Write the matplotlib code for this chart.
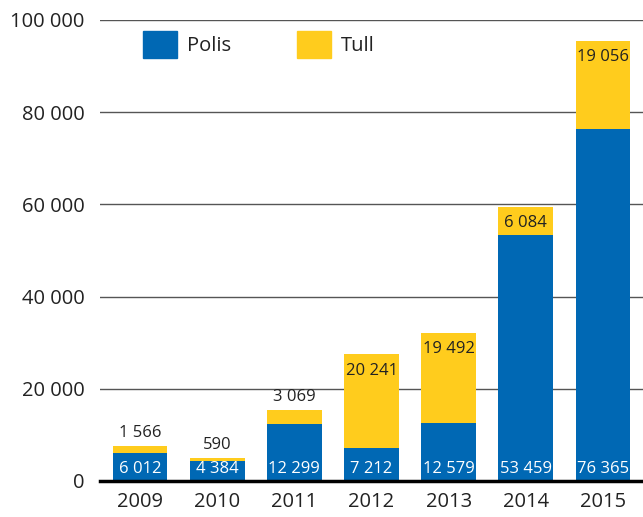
import matplotlib
matplotlib.use("Agg")
import matplotlib.pyplot as plt
from matplotlib.patches import Patch
import numpy as np

years = ["2009", "2010", "2011", "2012", "2013", "2014", "2015"]
polis = [6012, 4384, 12299, 7212, 12579, 53459, 76365]
tull = [1566, 590, 3069, 20241, 19492, 6084, 19056]
tull_inside = [False, False, False, True, True, True, True]
yticks = [0, 20000, 40000, 60000, 80000, 100000]

blue = "#0068b4"
yellow = "#ffcc1d"

plt.rcParams['font.family'] = ['Open Sans', 'DejaVu Sans']

def fmt(v):
    return "{:,}".format(v).replace(",", " ")

fig = plt.figure(figsize=(6.43, 5.17), dpi=100)
ax = fig.add_axes([100/643, 36/517, 543/643, 461/517])

x = np.arange(len(years))
w = 0.71
ax.bar(x, polis, w, color=blue, zorder=3)
ax.bar(x, tull, w, bottom=polis, color=yellow, zorder=3)

for i in range(len(years)):
    ax.annotate(fmt(polis[i]), (x[i], 0), xytext=(0, 3), textcoords="offset points",
                ha="center", va="bottom", color="white", fontsize=12, zorder=4)
    top = polis[i] + tull[i]
    if tull_inside[i]:
        ax.annotate(fmt(tull[i]), (x[i], top), xytext=(0, -6), textcoords="offset points",
                    ha="center", va="top", color="#222222", fontsize=12, zorder=4)
    else:
        ax.annotate(fmt(tull[i]), (x[i], top), xytext=(0, 4), textcoords="offset points",
                    ha="center", va="bottom", color="#222222", fontsize=12, zorder=4)

ax.set_xlim(-0.52, 6.52)
ax.set_ylim(0, 100000)
ax.set_yticks(yticks)
ax.set_yticklabels([fmt(v) for v in yticks])
ax.set_xticks(x)
ax.set_xticklabels(years)
ax.tick_params(axis="both", length=0, labelsize=14.5, colors="#222222")
ax.tick_params(axis="y", pad=11)
ax.tick_params(axis="x", pad=8)
for s in ax.spines.values():
    s.set_visible(False)
ax.set_axisbelow(True)
ax.yaxis.grid(True, color="#555555", linewidth=1.0, zorder=0)
ax.axhline(0, color="black", linewidth=2.5, zorder=5, clip_on=False)

handles = [Patch(color=blue, label="Polis"), Patch(color=yellow, label="Tull")]
ax.legend(handles=handles, loc="upper left", bbox_to_anchor=(0.046, 1.015), ncol=2,
          frameon=False, fontsize=14.5, handlelength=1.7, handleheight=1.7,
          handletextpad=0.5, columnspacing=3.25, labelcolor="#222222")

fig.savefig("out.png", dpi=100)
